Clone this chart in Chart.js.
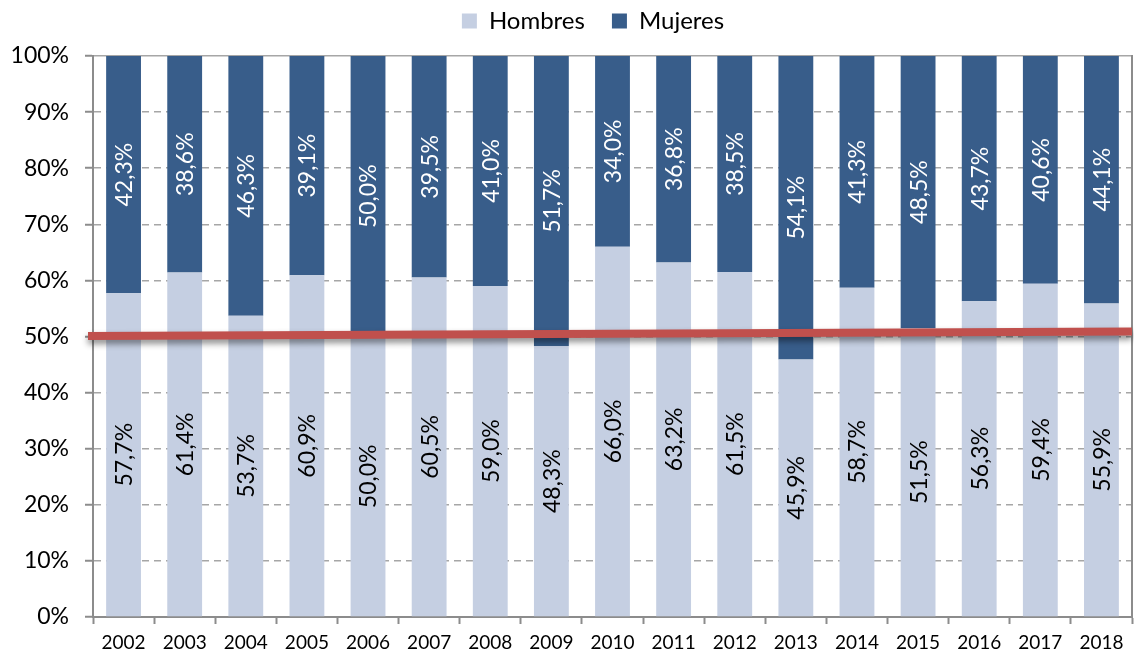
<!DOCTYPE html>
<html>
<head>
<meta charset="utf-8">
<script src="https://cdn.jsdelivr.net/npm/chart.js@4"></script>
<style>
  html, body { margin: 0; padding: 0; background: #fff; }
  #wrap { width: 1134px; height: 655px; }
</style>
</head>
<body>
<div id="wrap"><canvas id="grafico"></canvas></div>
<script>
// Datos del gráfico
const years = ["2002", "2003", "2004", "2005", "2006", "2007", "2008", "2009", "2010",
  "2011", "2012", "2013", "2014", "2015", "2016", "2017", "2018"];
const hombres = [57.7, 61.4, 53.7, 60.9, 50.0, 60.5, 59.0, 48.3, 66.0, 63.2, 61.5, 45.9, 58.7, 51.5, 56.3, 59.4, 55.9];
const mujeres = [42.3, 38.6, 46.3, 39.1, 50.0, 39.5, 41.0, 51.7, 34.0, 36.8, 38.5, 54.1, 41.3, 48.5, 43.7, 40.6, 44.1];
// línea de tendencia: valor en el borde izquierdo y derecho del eje
const tendencia = [50.1, 50.9];
const yTicks = [0, 10, 20, 30, 40, 50, 60, 70, 80, 90, 100];

const FONT = "Lato, 'Open Sans', sans-serif";
const AXIS_COLOR = "#8c8c8c";

function fmt(v) {
  return v.toFixed(1).replace(".", ",") + "%";
}

// Etiquetas verticales dentro de cada barra
const barLabels = {
  id: "barLabels",
  afterDatasetsDraw(chart) {
    const ctx = chart.ctx;
    [0, 1].forEach(function (di) {
      const meta = chart.getDatasetMeta(di);
      const values = chart.data.datasets[di].data;
      meta.data.forEach(function (bar, i) {
        const cy = (bar.y + bar.base) / 2;
        ctx.save();
        ctx.translate(bar.x, cy);
        ctx.rotate(-Math.PI / 2);
        ctx.font = "23px " + FONT;
        ctx.fillStyle = di === 0 ? "#000" : "#fff";
        ctx.textAlign = "center";
        ctx.textBaseline = "middle";
        ctx.fillText(fmt(values[i]), 0, 1);
        ctx.restore();
      });
    });
  }
};

// Línea roja de tendencia con sombra, de borde a borde del área
const trendLine = {
  id: "trendLine",
  afterDatasetsDraw(chart) {
    const ctx = chart.ctx;
    const area = chart.chartArea;
    const y = chart.scales.y;
    ctx.save();
    ctx.shadowColor = "rgba(0,0,0,0.45)";
    ctx.shadowBlur = 6;
    ctx.shadowOffsetY = 4;
    ctx.strokeStyle = "#c0504d";
    ctx.lineWidth = 8;
    ctx.beginPath();
    ctx.moveTo(area.left - 5, y.getPixelForValue(tendencia[0]));
    ctx.lineTo(area.right, y.getPixelForValue(tendencia[1]));
    ctx.stroke();
    ctx.restore();
  }
};

// Ajuste de la leyenda: altura y desplazamiento
const legendTweak = {
  id: "legendTweak",
  beforeInit(chart) {
    const legend = chart.legend;
    const fit = legend.fit;
    legend.fit = function () {
      fit.call(this);
      this.height += 13;
    };
    const draw = legend.draw;
    legend.draw = function () {
      const c = this.ctx;
      c.save();
      c.translate(26, 0);
      draw.call(this);
      c.restore();
    };
  }
};

const ctx = document.querySelector("#grafico").getContext("2d");
const chart = new Chart(ctx, {
  type: "bar",
  data: {
    labels: years,
    datasets: [
      {
        label: "Hombres",
        data: hombres,
        backgroundColor: "#c5cfe2",
        barPercentage: 0.57,
        categoryPercentage: 1
      },
      {
        label: "Mujeres",
        data: mujeres,
        backgroundColor: "#385d8a",
        barPercentage: 0.57,
        categoryPercentage: 1
      }
    ]
  },
  options: {
    responsive: true,
    maintainAspectRatio: false,
    animation: false,
    layout: { padding: { top: -18, left: 0, right: 0, bottom: 0 } },
    plugins: {
      tooltip: { enabled: false },
      legend: {
        position: "top",
        labels: {
          font: { family: FONT, size: 24 },
          color: "#000",
          boxWidth: 15,
          boxHeight: 15,
          padding: 27
        }
      }
    },
    scales: {
      x: {
        stacked: true,
        grid: {
          offset: true,
          drawOnChartArea: false,
          tickLength: 7,
          tickColor: AXIS_COLOR,
          tickWidth: 2
        },
        border: { color: AXIS_COLOR, width: 2 },
        ticks: {
          font: { family: FONT, size: 19 },
          color: "#000",
          padding: 7,
          maxRotation: 0
        },
        afterFit: function (s) { s.height = 38; }
      },
      y: {
        stacked: true,
        min: 0,
        max: 100,
        afterBuildTicks: function (s) {
          s.ticks = yTicks.map(function (v) { return { value: v }; });
        },
        grid: {
          color: "#a6a6a6",
          lineWidth: 1.5,
          tickLength: 8,
          tickColor: AXIS_COLOR,
          tickWidth: 2
        },
        border: {
          color: AXIS_COLOR,
          width: 2,
          dash: function (c) {
            return (c.tick && (c.tick.value === 100 || c.tick.value === 0)) ? [] : [7, 5];
          }
        },
        ticks: {
          font: { family: FONT, size: 23 },
          color: "#000",
          padding: 16,
          callback: function (v) { return v + "%"; }
        },
        afterFit: function (s) { s.width = 93; }
      },
      yR: {
        position: "right",
        min: 0,
        max: 100,
        ticks: { display: false },
        grid: { drawOnChartArea: false, drawTicks: false },
        border: { color: AXIS_COLOR, width: 2 },
        afterFit: function (s) { s.width = 2; }
      }
    }
  },
  plugins: [barLabels, trendLine, legendTweak]
});
</script>
</body>
</html>
